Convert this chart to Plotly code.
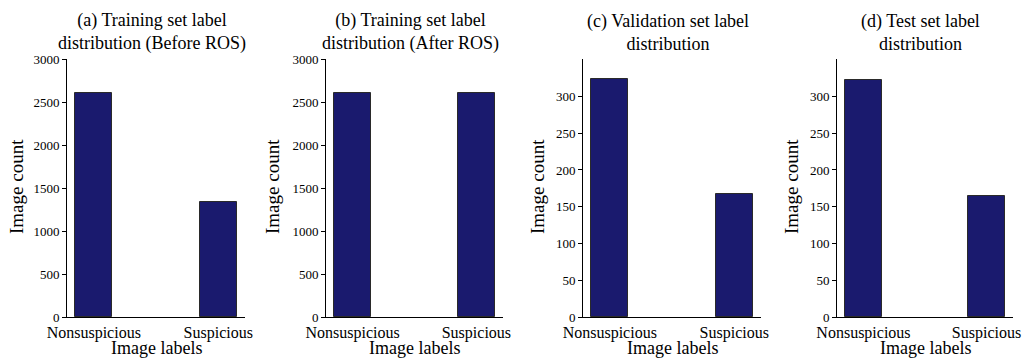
import plotly.graph_objects as go

categories = ["Nonsuspicious", "Suspicious"]
train_before = [2600, 1340]
train_after = [2600, 2600]
validation = [324, 167]
test = [323, 164]

titles = [
    "(a) Training set label<br>distribution (Before ROS)",
    "(b) Training set label<br>distribution (After ROS)",
    "(c) Validation set label<br>distribution",
    "(d) Test set label<br>distribution",
]
series = [train_before, train_after, validation, test]
y_ranges = [[0, 3000], [0, 3000], [0, 351], [0, 351]]
y_ticks = [list(range(0, 3001, 500)), list(range(0, 3001, 500)),
           list(range(0, 301, 50)), list(range(0, 301, 50))]

W, H = 1022, 360
x_px = [(67, 245), (326, 503), (583, 761), (837, 1013)]
ytitle_px = [17, 273, 538, 792]
top_px, bot_px = 59, 317
FONT = "Liberation Serif, Times New Roman, serif"

fig = go.Figure()
layout = dict(
    width=W, height=H, margin=dict(l=0, r=0, t=0, b=0),
    plot_bgcolor="white", paper_bgcolor="white", showlegend=False,
    font=dict(family=FONT, color="black"), bargap=0,
)
annotations = []
ydom = [(H - bot_px) / H, (H - top_px) / H]
for i, (vals, title) in enumerate(zip(series, titles)):
    n = "" if i == 0 else str(i + 1)
    fig.add_trace(go.Bar(
        x=categories, y=vals, width=0.3,
        marker=dict(color="#1a1a6e", line=dict(color="#2a2a2a", width=1)),
        xaxis="x" + n, yaxis="y" + n,
    ))
    x0, x1 = x_px[i]
    layout["xaxis" + n] = dict(
        domain=[x0 / W, x1 / W], anchor="y" + n, type="category", automargin=False,
        range=[-0.215, 1.215], showline=True, linecolor="black", linewidth=1,
        showgrid=False, zeroline=False, ticks="", ticklabelstandoff=1,
        tickfont=dict(size=16, family=FONT, color="black"),
    )
    layout["yaxis" + n] = dict(
        domain=ydom, anchor="x" + n, range=y_ranges[i], automargin=False,
        tickmode="array", tickvals=y_ticks[i],
        showline=True, linecolor="black", linewidth=1, showgrid=False,
        zeroline=False, ticks="outside", ticklen=4, tickcolor="black",
        tickfont=dict(size=13, family=FONT, color="black"),
    )
    annotations.append(dict(
        text=title, x=(x0 + x1) / 2 / W - 0.004, y=(H - 56) / H, xref="paper", yref="paper",
        xanchor="center", yanchor="bottom", showarrow=False,
        font=dict(size=18, family=FONT, color="black"),
    ))
    annotations.append(dict(
        text="Image count", x=ytitle_px[i] / W, y=(H - 187) / H, xref="paper", yref="paper",
        xanchor="center", yanchor="middle", textangle=-90, showarrow=False,
        font=dict(size=19, family=FONT, color="black"),
    ))
    annotations.append(dict(
        text="Image labels", x=(x0 + x1) / 2 / W, y=(H - 348) / H, xref="paper", yref="paper",
        xanchor="center", yanchor="middle", showarrow=False,
        font=dict(size=18, family=FONT, color="black"),
    ))
layout["annotations"] = annotations
fig.update_layout(**layout)
fig.write_html("out.html", config={"displayModeBar": False},
               post_script="document.body.style.margin='0';document.body.style.overflow='hidden';")
